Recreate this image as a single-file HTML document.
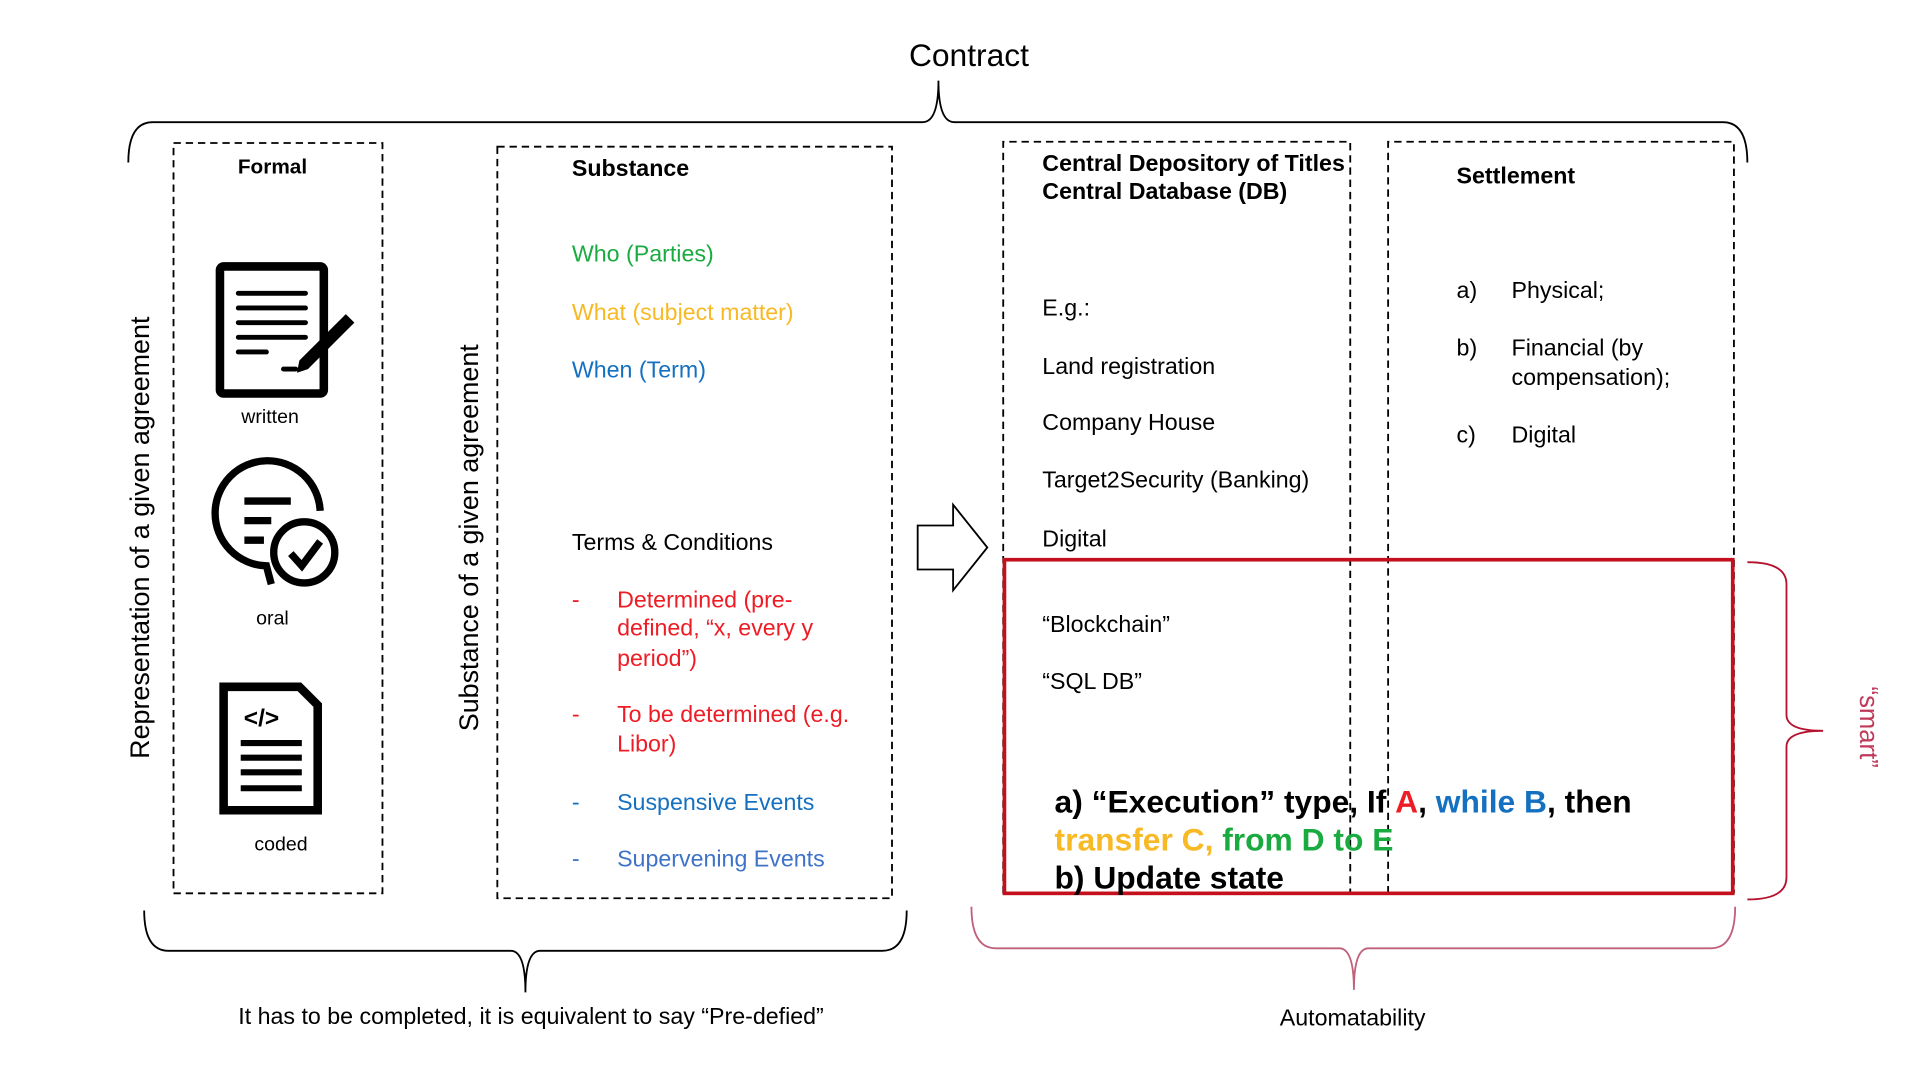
<!DOCTYPE html>
<html><head><meta charset="utf-8">
<style>
html,body{margin:0;padding:0;background:#fff;width:1916px;height:1073px;overflow:hidden}
svg{display:block}
text{font-family:"Liberation Sans",Arial,sans-serif}
</style></head>
<body>
<svg width="1916" height="1073" viewBox="0 0 1568 878" preserveAspectRatio="none" xmlns="http://www.w3.org/2000/svg">
<g fill="none" stroke="#000" stroke-width="1.5">
<path d="M105,133 Q105,100 125,100 L755,100 Q768,100 768,66 Q768,100 781,100 L1410,100 Q1430,100 1430,133"/>
<path d="M118,745 Q118,778 138,778 L418,778 Q430,778 430,812 Q430,778 442,778 L722,778 Q742,778 742,745"/>
</g>
<path d="M795,742 Q795,776 815,776 L1096,776 Q1108,776 1108,810 Q1108,776 1120,776 L1400,776 Q1420,776 1420,742" fill="none" stroke="#c0607a" stroke-width="1.5"/>
<path d="M1430,460 Q1462,460 1462,478 L1462,585 Q1462,598 1492,598 Q1462,598 1462,611 L1462,718 Q1462,736 1430,736" fill="none" stroke="#b5122f" stroke-width="1.5"/>
<g fill="none" stroke="#000" stroke-width="1.5" stroke-dasharray="6,4">
<rect x="142" y="117" width="171" height="614"/>
<rect x="407" y="120" width="323" height="615"/>
<path d="M821,731 L821,116 L1105,116 L1105,731"/>
<path d="M1136,731 L1136,116 L1419,116 L1419,731"/>
</g>
<rect x="822" y="458" width="596" height="273" fill="none" stroke="#c4101c" stroke-width="3"/>
<path d="M751,430 L780,430 L780,413 L808,448 L780,483 L780,466 L751,466 Z" fill="#fff" stroke="#000" stroke-width="1.5"/>

<rect x="180" y="218" width="85" height="104" rx="3" fill="none" stroke="#000" stroke-width="7"/>
<g stroke="#000" stroke-width="4" stroke-linecap="round">
<line x1="195" y1="240" x2="250" y2="240"/><line x1="195" y1="252" x2="250" y2="252"/>
<line x1="195" y1="264" x2="250" y2="264"/><line x1="195" y1="276" x2="250" y2="276"/>
<line x1="195" y1="288" x2="218" y2="288"/><line x1="232" y1="302" x2="242" y2="302"/>
</g>
<path d="M245,295 L283,257 L290,264 L252,302 L243,305 Z" fill="#000"/>
<g transform="translate(0,8)">
<path d="M262,410 A43,43 0 1 0 218,455 L222,470" fill="none" stroke="#000" stroke-width="6"/>
<g stroke="#000" stroke-width="6"><line x1="200" y1="402" x2="238" y2="402"/><line x1="200" y1="418" x2="222" y2="418"/><line x1="200" y1="434" x2="216" y2="434"/></g>
<circle cx="249" cy="444" r="25" fill="#fff" stroke="#000" stroke-width="6"/>
<path d="M238,445 L247,455 L262,435" fill="none" stroke="#000" stroke-width="6"/>
</g>
<path d="M183,562 L245,562 L260,577 L260,663 L183,663 Z" fill="none" stroke="#000" stroke-width="7"/>
<g stroke="#000" stroke-width="5"><line x1="197" y1="608" x2="247" y2="608"/><line x1="197" y1="620" x2="247" y2="620"/><line x1="197" y1="632" x2="247" y2="632"/><line x1="197" y1="645" x2="247" y2="645"/></g>
<text x="214" y="594" font-size="20" font-weight="bold" text-anchor="middle">&lt;/&gt;</text>

<text x="793" y="54" font-size="26" text-anchor="middle">Contract</text>
<text x="223" y="142" font-weight="bold" text-anchor="middle" font-size="17">Formal</text>
<text x="221" y="346" text-anchor="middle" font-size="16">written</text>
<text x="223" y="511" text-anchor="middle" font-size="16">oral</text>
<text x="230" y="696" text-anchor="middle" font-size="16">coded</text>
<text transform="translate(122,440) rotate(-90)" font-size="22" text-anchor="middle">Representation of a given agreement</text>
<text transform="translate(391,440) rotate(-90)" font-size="22" text-anchor="middle">Substance of a given agreement</text>
<g font-size="19">
<text x="468" y="144" font-weight="bold">Substance</text>
<text x="468" y="214" fill="#1aab40">Who (Parties)</text>
<text x="468" y="262" fill="#f7b924">What (subject matter)</text>
<text x="468" y="309" fill="#1570c0">When (Term)</text>
<text x="468" y="450">Terms &amp; Conditions</text>
<g fill="#ee1c25">
<text x="468" y="497">-</text>
<text x="505" y="497">Determined (pre-</text>
<text x="505" y="520">defined, “x, every y</text>
<text x="505" y="545">period”)</text>
<text x="468" y="591">-</text>
<text x="505" y="591">To be determined (e.g.</text>
<text x="505" y="615">Libor)</text>
</g>
<text x="468" y="663" fill="#1570c0">-</text>
<text x="505" y="663" fill="#1570c0">Suspensive Events</text>
<text x="468" y="709" fill="#3f73c8">-</text>
<text x="505" y="709" fill="#3f73c8">Supervening Events</text>

<text x="853" y="140" font-weight="bold">Central Depository of Titles</text>
<text x="853" y="163" font-weight="bold">Central Database (DB)</text>
<text x="853" y="258">E.g.:</text>
<text x="853" y="306">Land registration</text>
<text x="853" y="352">Company House</text>
<text x="853" y="399">Target2Security (Banking)</text>
<text x="853" y="447">Digital</text>
<text x="853" y="517">“Blockchain”</text>
<text x="853" y="564">“SQL DB”</text>

<text x="1192" y="150" font-weight="bold">Settlement</text>
<text x="1192" y="244">a)</text><text x="1237" y="244">Physical;</text>
<text x="1192" y="291">b)</text><text x="1237" y="291">Financial (by</text>
<text x="1237" y="315">compensation);</text>
<text x="1192" y="362">c)</text><text x="1237" y="362">Digital</text>

<text x="195" y="838">It has to be completed, it is equivalent to say “Pre-defied”</text>
<text x="1107" y="839" text-anchor="middle">Automatability</text>
</g>
<g font-size="26" font-weight="bold">
<text x="863" y="665">a) “Execution” type, If <tspan fill="#ee1c25">A</tspan>, <tspan fill="#1570c0">while B</tspan>, then</text>
<text x="863" y="696"><tspan fill="#f7b924">transfer C, </tspan><tspan fill="#1aab40">from D to E</tspan></text>
<text x="863" y="727">b) Update state</text>
</g>
<text transform="translate(1522,595) rotate(90)" font-size="21" fill="#c0395a" text-anchor="middle">“smart”</text>
</svg>
</body></html>
